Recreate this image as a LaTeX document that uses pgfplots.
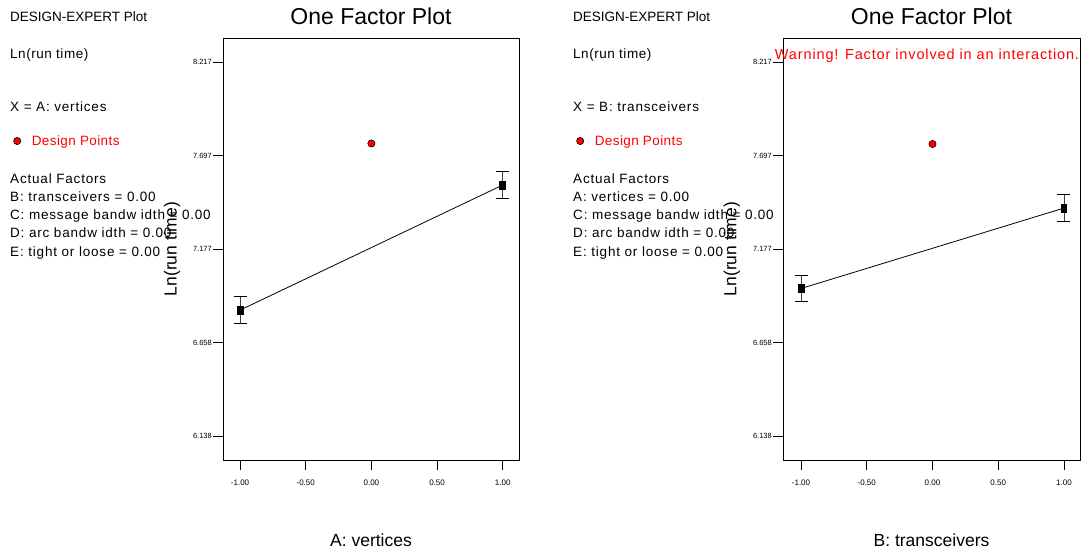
\documentclass[border=0pt]{standalone}
\usepackage{pgfplots}
\pgfplotsset{compat=1.18}
\usepackage{fontspec}
\setmainfont{Liberation Sans}
\newcommand{\fs}[1]{\fontsize{#1}{#1}\selectfont}
\newcommand{\ls}[1]{\addfontfeature{LetterSpace=#1}}
\definecolor{dered}{RGB}{255,0,0}
\pgfplotsset{
  oneaxis/.style={
    scale only axis, width=296pt, height=422pt,
    xmin=-1.13, xmax=1.124, ymin=6.005, ymax=8.35,
    axis line style={black, line width=0.8pt},
    tick align=outside, major tick length=10pt,
    xtick pos=left, ytick pos=left,
    tick style={black, line width=0.7pt},
    xtick={-1,-0.5,0,0.5,1},
    xticklabels={-1.00,-0.50,0.00,0.50,1.00},
    ytick={6.138,6.658,7.177,7.697,8.217},
    yticklabels={6.138,6.658,7.177,7.697,8.217},
    xticklabel style={font=\fs{8}, inner sep=1.5pt, yshift=-8pt},
    yticklabel style={font=\fs{7.5}, inner sep=1pt},
    title style={at={(axis description cs:0.5,1.0166)}, anchor=base, font=\fs{23}},
    xlabel style={at={(axis description cs:0.5,-0.2038)}, anchor=base, font=\fs{17.5}},
    ylabel style={at={(axis description cs:-0.1723,0.5)}, anchor=center, font=\fs{17.5}},
    legend style={draw=none, fill=none, inner sep=0pt, font=\fs{13.5}\ls{3}, text=dered,
      legend cell align=left, anchor=west},
    legend image code/.code={\draw[#1] plot coordinates {(0pt,0pt)}; \path[draw=none, fill=none] (-3.6pt,0pt) rectangle (12.6pt,0.1pt);},
    clip=false,
  },
  errbar/.style={black, line width=0.8pt, mark=square*,
    mark options={solid, xscale=0.72, fill=black}, mark size=4pt,
    error bars/y dir=both, error bars/y explicit,
    error bars/error bar style={line width=0.7pt, black!75},
    error bars/error mark options={black, mark size=6.5pt, line width=0.7pt, rotate=90}},
  dpt/.style={only marks, mark=*, mark size=3.6pt,
    mark options={fill=dered, draw=black, line width=0.6pt}},
}
\begin{document}
\begin{tikzpicture}
\useasboundingbox (0,0) rectangle (1091pt,-550pt);
% ---------- text panels ----------
\begin{scope}[every node/.style={anchor=base west, inner sep=0pt, font=\fs{13.5}\ls{6}}]
\node[font=\fs{13.5}] at (10pt,-21pt) {DESIGN-EXPERT Plot};
\node[font=\fs{13.5}\ls{4}] at (10pt,-58.5pt) {Ln(run time)};
\node at (10pt,-111pt) {X = A: vertices};
\node at (10pt,-183.5pt) {Actual Factors};
\node at (10pt,-201.5pt) {B: transceivers = 0.00};
\node at (10pt,-219.5pt) {C: message bandw idth = 0.00};
\node at (10pt,-237.5pt) {D: arc bandw idth = 0.00};
\node at (10pt,-256pt) {E: tight or loose = 0.00};
\node[font=\fs{13.5}] at (573pt,-21pt) {DESIGN-EXPERT Plot};
\node[font=\fs{13.5}\ls{4}] at (573pt,-58.5pt) {Ln(run time)};
\node at (573pt,-111pt) {X = B: transceivers};
\node at (573pt,-183.5pt) {Actual Factors};
\node at (573pt,-201.5pt) {A: vertices = 0.00};
\node at (573pt,-219.5pt) {C: message bandw idth = 0.00};
\node at (573pt,-237.5pt) {D: arc bandw idth = 0.00};
\node at (573pt,-256pt) {E: tight or loose = 0.00};
\end{scope}
% ---------- left axis ----------
\begin{axis}[oneaxis, at={(223pt,-460pt)}, anchor=south west,
  title={One Factor Plot}, xlabel={A: vertices}, ylabel={Ln(run time)},
  legend style={at={(axis description cs:-0.708,0.7559)}}]
\addplot[forget plot, errbar] coordinates {(-1,6.838) +- (0,0.074) (1,7.533) +- (0,0.075)};
\addplot[dpt] coordinates {(0,7.764)};
\addlegendentry{Design Points}
\end{axis}
% ---------- right axis ----------
\begin{axis}[oneaxis, at={(783pt,-460pt)}, anchor=south west, width=297pt,
  xmin=-1.137, xmax=1.122,
  title={One Factor Plot}, xlabel={B: transceivers}, ylabel={Ln(run time)},
  legend style={at={(axis description cs:-0.6956,0.7559)}}]
\addplot[forget plot, errbar] coordinates {(-1,6.958) +- (0,0.073) (1,7.405) +- (0,0.074)};
\addplot[dpt] coordinates {(0,7.761)};
\addlegendentry{Design Points}
\end{axis}
\node[anchor=base, inner sep=0pt, font=\fs{14.5}\ls{6}, text=dered] at (927pt,-59.3pt) {Warning! Factor involved in an interaction.};
\end{tikzpicture}
\end{document}
